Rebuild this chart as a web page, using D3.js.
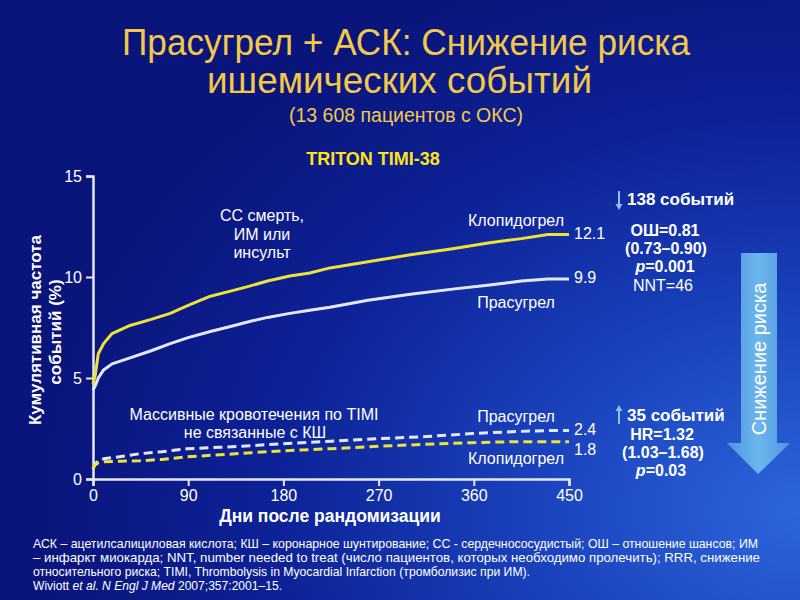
<!DOCTYPE html>
<html><head><meta charset="utf-8">
<script src="https://cdn.jsdelivr.net/npm/d3@7"></script>
<style>html,body{margin:0;padding:0;background:#0a1680;}svg{display:block;}</style>
</head><body>
<svg id="chart" width="800" height="600"></svg>
<script>
// ---- Data ----
const xTicks = [0, 90, 180, 270, 360, 450];
const yTicks = [0, 5, 10, 15];

const daysIschemic = [0, 2, 5, 10, 18, 35, 55, 73, 90, 111, 130, 148, 165, 186, 205, 224, 260, 300, 340, 375, 405, 430, 450];
const clopidogrelIschemic = [4.7, 5.1, 6.2, 6.7, 7.2, 7.6, 7.9, 8.2, 8.6, 9.05, 9.3, 9.55, 9.8, 10.05, 10.2, 10.45, 10.75, 11.1, 11.4, 11.7, 11.9, 12.1, 12.1];
const prasugrelIschemic = [4.4, 4.6, 5.0, 5.4, 5.7, 6.0, 6.35, 6.7, 7.0, 7.3, 7.55, 7.8, 8.0, 8.2, 8.35, 8.5, 8.85, 9.15, 9.4, 9.6, 9.8, 9.9, 9.9];

const daysBleeding = [0, 2, 5, 10, 25, 44, 65, 89, 120, 150, 180, 225, 271, 315, 359, 400, 430, 450];
const prasugrelBleeding = [0.5, 0.75, 0.9, 1.0, 1.1, 1.25, 1.35, 1.5, 1.57, 1.65, 1.75, 1.87, 2.0, 2.1, 2.25, 2.35, 2.4, 2.4];
const clopidogrelBleeding = [0.5, 0.7, 0.8, 0.85, 0.88, 0.9, 0.97, 1.1, 1.2, 1.3, 1.4, 1.5, 1.62, 1.72, 1.8, 1.85, 1.85, 1.85];

const endLabels = ["12.1", "9.9", "2.4", "1.8"];

// ---- Drawing ----
const svg = d3.select("#chart");
const defs = svg.append("defs");
const bg = defs.append("radialGradient").attr("id", "bg")
  .attr("cx", "100%").attr("cy", "85%").attr("r", "95%");
bg.append("stop").attr("offset", "0%").attr("stop-color", "#2c66dc");
bg.append("stop").attr("offset", "35%").attr("stop-color", "#1a42bc");
bg.append("stop").attr("offset", "70%").attr("stop-color", "#0d2196");
bg.append("stop").attr("offset", "100%").attr("stop-color", "#0a157c");
svg.append("rect").attr("width", 800).attr("height", 600).attr("fill", "url(#bg)");

const arrowGrad = defs.append("linearGradient").attr("id", "arrowGrad")
  .attr("x1", "0").attr("y1", "0").attr("x2", "1").attr("y2", "0");
arrowGrad.append("stop").attr("offset", "0%").attr("stop-color", "#4f96de");
arrowGrad.append("stop").attr("offset", "50%").attr("stop-color", "#6cb6ee");
arrowGrad.append("stop").attr("offset", "100%").attr("stop-color", "#4f96de");

const FONT = "'Liberation Sans', Arial, sans-serif";
const titleColor = "#f2c84a";

// Titles
svg.append("text").attr("x", 122).attr("y", 55)
  .attr("font-family", FONT).attr("font-size", 36).attr("fill", titleColor)
  .attr("textLength", 568).attr("lengthAdjust", "spacingAndGlyphs")
  .text("Прасугрел + АСК: Снижение риска");
svg.append("text").attr("x", 207).attr("y", 93)
  .attr("font-family", FONT).attr("font-size", 36).attr("fill", titleColor)
  .attr("textLength", 385).attr("lengthAdjust", "spacingAndGlyphs")
  .text("ишемических событий");
svg.append("text").attr("x", 406).attr("y", 122).attr("text-anchor", "middle")
  .attr("font-family", FONT).attr("font-size", 19.5).attr("fill", titleColor)
  .text("(13 608 пациентов с ОКС)");
svg.append("text").attr("x", 373).attr("y", 165).attr("text-anchor", "middle")
  .attr("font-family", FONT).attr("font-size", 18).attr("font-weight", "bold").attr("fill", "#ffe41a")
  .text("TRITON TIMI-38");

// Scales
const x = d3.scaleLinear().domain([0, 450]).range([93, 569]);
const y = d3.scaleLinear().domain([0, 15]).range([479, 176]);
const axisColor = "#e6e8f0";

const xAxis = svg.append("g").attr("transform", `translate(0,${y(0)})`)
  .call(d3.axisBottom(x).tickValues(xTicks).tickSize(7).tickPadding(4));
const yAxis = svg.append("g").attr("transform", `translate(${x(0)},0)`)
  .call(d3.axisLeft(y).tickValues(yTicks).tickSize(7).tickPadding(4));
[xAxis, yAxis].forEach(g => {
  g.select(".domain").attr("stroke", axisColor).attr("stroke-width", 2.5);
  g.selectAll(".tick line").attr("stroke", axisColor).attr("stroke-width", 2);
  g.selectAll(".tick text").attr("fill", "#ffffff").attr("font-family", FONT).attr("font-size", 16);
});

// Axis titles
svg.append("text").attr("x", 330).attr("y", 522).attr("text-anchor", "middle")
  .attr("font-family", FONT).attr("font-size", 17.5).attr("font-weight", "bold").attr("fill", "#ffffff")
  .text("Дни после рандомизации");
svg.append("text").attr("transform", "translate(41,330) rotate(-90)").attr("text-anchor", "middle")
  .attr("font-family", FONT).attr("font-size", 17).attr("font-weight", "bold").attr("fill", "#ffffff")
  .text("Кумулятивная частота");
svg.append("text").attr("transform", "translate(61,332) rotate(-90)").attr("text-anchor", "middle")
  .attr("font-family", FONT).attr("font-size", 17).attr("font-weight", "bold").attr("fill", "#ffffff")
  .text("событий (%)");

// Lines
const line = d3.line().x(d => x(d[0])).y(d => y(d[1])).curve(d3.curveLinear);
const yellow = "#ece23a", white = "#e4e8ff";
function drawSeries(days, vals, color, dashed) {
  svg.append("path").datum(days.map((d, i) => [d, vals[i]]))
    .attr("d", line).attr("fill", "none").attr("stroke", color)
    .attr("stroke-width", 3).attr("stroke-linejoin", "round")
    .attr("stroke-dasharray", dashed ? "9,5" : null);
}
drawSeries(daysIschemic, clopidogrelIschemic, yellow, false);
drawSeries(daysIschemic, prasugrelIschemic, white, false);
drawSeries(daysBleeding, prasugrelBleeding, white, true);
drawSeries(daysBleeding, clopidogrelBleeding, yellow, true);

// End values
const endBase = [239, 283, 435, 455];
endLabels.forEach((t, i) => {
  svg.append("text").attr("x", 574).attr("y", endBase[i])
    .attr("font-family", FONT).attr("font-size", 16).attr("fill", "#ffffff").text(t);
});

// In-chart labels
function label(txt, xx, yy) {
  svg.append("text").attr("x", xx).attr("y", yy).attr("text-anchor", "middle")
    .attr("font-family", FONT).attr("font-size", 16).attr("fill", "#ffffff").text(txt);
}
label("СС смерть,", 262, 221);
label("ИМ или", 262, 240);
label("инсульт", 262, 258);
label("Клопидогрел", 516, 226);
label("Прасугрел", 516, 308);
label("Массивные кровотечения по TIMI", 254, 420);
label("не связанные с КШ", 255, 438);
label("Прасугрел", 516, 422);
label("Клопидогрел", 516, 464);

// Right-side annotations
function smallArrow(xx, y1, y2) {
  const down = y2 > y1, s = down ? 1 : -1;
  svg.append("line").attr("x1", xx).attr("y1", y1).attr("x2", xx).attr("y2", y2 - s * 5)
    .attr("stroke", "#8cc0f0").attr("stroke-width", 2);
  svg.append("path").attr("d", `M${xx - 3.5},${y2 - s * 6} L${xx + 3.5},${y2 - s * 6} L${xx},${y2} Z`)
    .attr("fill", "#8cc0f0");
}
smallArrow(619, 191, 210);
smallArrow(619, 424, 405);
function rt(txt, xx, yy, opts) {
  const t = svg.append("text").attr("x", xx).attr("y", yy).attr("text-anchor", opts.anchor || "middle")
    .attr("font-family", FONT).attr("font-size", opts.size || 16).attr("fill", "#ffffff")
    .attr("font-weight", opts.bold ? "bold" : "normal");
  if (opts.italicP) {
    t.append("tspan").attr("font-style", "italic").text("p");
    t.append("tspan").text(txt);
  } else t.text(txt);
}
rt("138 событий", 627, 205, {anchor: "start", size: 17, bold: true});
rt("ОШ=0.81", 665, 236, {bold: true});
rt("(0.73–0.90)", 666, 254, {bold: true});
rt("=0.001", 665, 272, {bold: true, italicP: true});
rt("NNT=46", 663, 291, {});
rt("35 событий", 627, 421, {anchor: "start", size: 17, bold: true});
rt("HR=1.32", 662, 440, {bold: true});
rt("(1.03–1.68)", 663, 458, {bold: true});
rt("=0.03", 661, 476, {bold: true, italicP: true});

// Big arrow
svg.append("path")
  .attr("d", "M741,253 L777,253 L777,443 L790,443 L758,474 L727,443 L741,443 Z")
  .attr("fill", "url(#arrowGrad)");
svg.append("text").attr("transform", "translate(766,359) rotate(-90)").attr("text-anchor", "middle")
  .attr("font-family", FONT).attr("font-size", 20).attr("fill", "#ffffff").text("Снижение риска");

// Footnotes
const NARROW = "'Liberation Sans Narrow', 'Arial Narrow', 'Liberation Sans', sans-serif";
const foot = [
  {t: "АСК – ацетилсалициловая кислота; КШ – коронарное шунтирование; СС - сердечнососудистый; ОШ – отношение шансов; ИМ", y: 548, w: 725},
  {t: "– инфаркт миокарда; NNT, number needed to treat (число пациентов, которых необходимо пролечить); RRR, снижение", y: 562, w: 727},
  {t: "относительного риска; TIMI, Thrombolysis in Myocardial Infarction (тромболизис при ИМ).", y: 576, w: 497}
];
foot.forEach(f => {
  svg.append("text").attr("x", 33).attr("y", f.y).attr("font-family", NARROW).attr("font-size", 13)
    .attr("fill", "#ffffff").attr("textLength", f.w).attr("lengthAdjust", "spacingAndGlyphs").text(f.t);
});
const ref = svg.append("text").attr("x", 33).attr("y", 590).attr("font-family", NARROW).attr("font-size", 13)
  .attr("fill", "#ffffff").attr("textLength", 249).attr("lengthAdjust", "spacingAndGlyphs");
ref.append("tspan").text("Wiviott ");
ref.append("tspan").attr("font-style", "italic").text("et al. N Engl J Med");
ref.append("tspan").text(" 2007;357:2001–15.");
</script>
</body></html>
